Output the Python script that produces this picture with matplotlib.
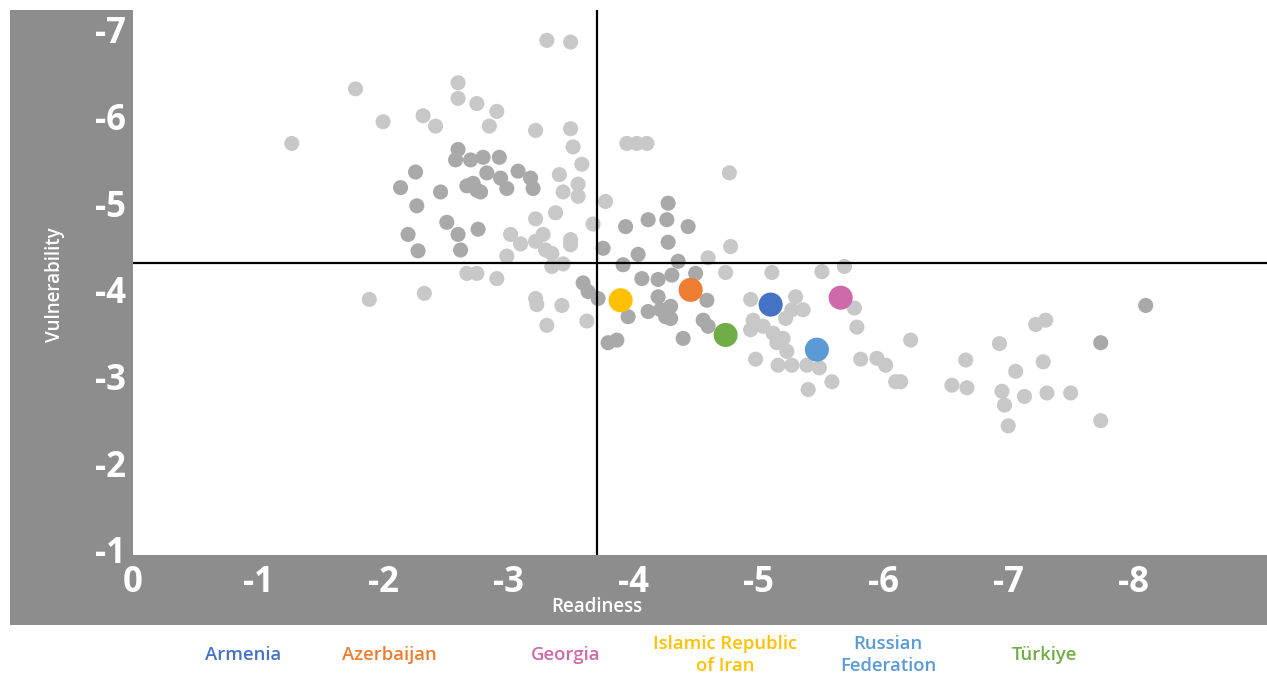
import matplotlib
matplotlib.use("Agg")
import matplotlib.pyplot as plt
from matplotlib.patches import Rectangle

# ---------------- data ----------------
# light-grey countries (readiness, vulnerability)
light_x = [-3.31, -3.50, -1.78, -2.60, -2.60, -2.75, -2.91, -2.85, -2.32, -2.42,
           -2.00, -1.27, -3.22, -3.50, -3.52, -3.59, -3.41, -3.56, -3.44, -3.56,
           -3.68, -3.38, -3.22, -3.02, -3.10, -3.22, -3.28, -3.50, -3.50, -3.30,
           -3.35, -2.99, -3.35, -3.44, -2.67, -2.75, -2.91, -1.89, -2.33, -3.22,
           -3.23, -3.43, -3.31, -3.63, -3.78, -3.95, -4.03, -4.11, -4.77, -4.60,
           -4.78, -4.74, -5.11, -5.51, -5.69, -4.94, -4.98, -5.30, -5.36, -5.27,
           -5.22, -4.96, -4.94, -5.04, -5.12, -5.20, -5.15, -5.23, -5.16, -5.27,
           -5.39, -5.49, -5.40, -5.59, -5.77, -5.79, -5.82, -5.95, -6.02, -6.10,
           -6.14, -6.22, -6.66, -6.55, -6.67, -6.93, -7.22, -7.30, -7.28, -7.06,
           -6.95, -6.97, -7.00, -7.13, -7.31, -7.50, -7.74]
light_y = [-6.88, -6.86, -6.32, -6.39, -6.21, -6.15, -6.06, -5.89, -6.01, -5.89,
           -5.94, -5.69, -5.84, -5.86, -5.65, -5.45, -5.33, -5.22, -5.13, -5.08,
           -4.76, -4.89, -4.82, -4.64, -4.53, -4.56, -4.64, -4.58, -4.52, -4.46,
           -4.42, -4.39, -4.27, -4.30, -4.19, -4.19, -4.13, -3.89, -3.96, -3.90,
           -3.83, -3.82, -3.59, -3.64, -5.02, -5.69, -5.69, -5.69, -5.35, -4.37,
           -4.50, -4.20, -4.20, -4.21, -4.27, -3.89, -3.20, -3.92, -3.77, -3.77,
           -3.67, -3.65, -3.54, -3.58, -3.50, -3.44, -3.39, -3.29, -3.13, -3.13,
           -3.13, -3.10, -2.85, -2.94, -3.79, -3.57, -3.20, -3.21, -3.13, -2.94,
           -2.94, -3.42, -3.19, -2.90, -2.87, -3.38, -3.60, -3.65, -3.17, -3.06,
           -2.83, -2.67, -2.43, -2.77, -2.81, -2.81, -2.49]

# dark-grey countries
dark_x = [-2.60, -2.58, -2.70, -2.80, -2.93, -3.08, -3.18, -3.20, -2.26, -2.14,
          -2.46, -2.72, -2.75, -2.83, -2.94, -2.99, -2.67, -2.78, -2.27, -2.51,
          -2.60, -2.62, -2.76, -2.20, -2.28, -3.60, -3.64, -3.72, -3.76, -3.80,
          -3.87, -3.94, -4.12, -4.28, -4.27, -4.44, -4.28, -4.04, -3.92, -4.36,
          -4.07, -4.20, -4.31, -4.50, -4.20, -4.59, -3.96, -4.12, -4.22, -4.30,
          -4.30, -4.26, -4.56, -4.60, -4.40, -7.74, -8.10]
dark_y = [-5.62, -5.50, -5.50, -5.53, -5.53, -5.37, -5.29, -5.17, -5.36, -5.18,
          -5.13, -5.23, -5.15, -5.35, -5.29, -5.17, -5.20, -5.13, -4.97, -4.78,
          -4.64, -4.46, -4.70, -4.64, -4.45, -4.08, -3.98, -3.90, -4.48, -3.39,
          -3.42, -4.73, -4.81, -5.00, -4.81, -4.73, -4.55, -4.41, -4.29, -4.33,
          -4.13, -4.12, -4.17, -4.19, -3.92, -3.88, -3.69, -3.75, -3.77, -3.81,
          -3.67, -3.69, -3.65, -3.58, -3.44, -3.39, -3.82]

# highlighted countries
countries = ["Armenia", "Azerbaijan", "Georgia", "Islamic Republic\nof Iran",
             "Russian\nFederation", "Türkiye"]
country_x = [-5.10, -4.46, -5.66, -3.90, -5.47, -4.74]
country_y = [-3.83, -4.00, -3.91, -3.88, -3.31, -3.48]
country_colors = ["#4472C4", "#ED7D31", "#CF69AA", "#FFC000", "#5B9BD5", "#70AD47"]

readiness_ref = -3.71
vulnerability_ref = -4.31

x_ticks = [0, -1, -2, -3, -4, -5, -6, -7, -8]
x_tick_labels = ["0", "-1", "-2", "-3", "-4", "-5", "-6", "-7", "-8"]
y_ticks = [-1, -2, -3, -4, -5, -6, -7]
y_tick_labels = ["-1", "-2", "-3", "-4", "-5", "-6", "-7"]

# ---------------- figure ----------------
W, H = 1267, 674
fig = plt.figure(figsize=(W / 100, H / 100), dpi=100)
fig.patch.set_facecolor("white")

band = "#8d8d8d"
# left band and bottom band (figure pixel coords converted to fractions)
fig.patches.append(Rectangle((10 / W, 1 - 625 / H), (133 - 10) / W, (625 - 10) / H,
                             transform=fig.transFigure, facecolor=band,
                             edgecolor="none", zorder=-2))
fig.patches.append(Rectangle((10 / W, 1 - 625 / H), (W - 10) / W, (625 - 555) / H,
                             transform=fig.transFigure, facecolor=band,
                             edgecolor="none", zorder=-2))

ax = fig.add_axes([133 / W, 1 - 555 / H, 1 - 133 / W, (555 - 10) / H])
ax.set_zorder(1)
ax.set_facecolor("white")
ax.set_xlim(0, -9.07)
ax.set_ylim(-0.94, -7.23)
for s in ax.spines.values():
    s.set_visible(False)

ax.scatter(light_x, light_y, s=118, color="#c8c8c8", edgecolors="none", zorder=2)
ax.scatter(dark_x, dark_y, s=118, color="#a9a9a9", edgecolors="none", zorder=2.5)
ax.axvline(readiness_ref, color="black", lw=1.6, zorder=3)
ax.axhline(vulnerability_ref, color="black", lw=1.6, zorder=3)
ax.scatter(country_x, country_y, s=300, c=country_colors, edgecolors="none", zorder=4)

tick_font = dict(family="Open Sans", weight="bold", size=25, color="white")
ax.set_xticks(x_ticks)
ax.set_xticklabels(x_tick_labels, **tick_font)
ax.set_yticks(y_ticks)
ax.set_yticklabels(y_tick_labels, **tick_font)
ax.tick_params(axis="x", length=0, pad=7)
ax.tick_params(axis="y", length=0, pad=5)

fig.text(597 / W, 1 - 607 / H, "Readiness", ha="center", va="center",
         family="Open Sans", weight="semibold", size=13.5, color="white", zorder=3)
fig.text(55 / W, 1 - 285 / H, "Vulnerability", ha="center", va="center",
         rotation=90, family="Open Sans", weight="semibold", size=13.5,
         color="white", zorder=3)

legend_x = [243, 389, 566, 725, 888, 1044]
for name, col, lx in zip(countries, country_colors, legend_x):
    fig.text(lx / W, 1 - 655 / H, name, ha="center", va="center",
             family="Open Sans", weight="semibold", size=13.3, color=col,
             linespacing=1.3)

fig.savefig("out.png", dpi=100, facecolor="white")
